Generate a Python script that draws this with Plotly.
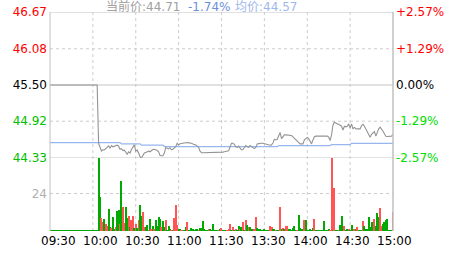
import plotly.graph_objects as go

# ---------------- data ----------------
time_labels = ["09:30", "10:00", "10:30", "11:00", "11:30", "13:30", "14:00", "14:30", "15:00"]
prev_close = 45.50
price_ticks = [46.67, 46.08, 45.50, 44.92, 44.33]
price_tick_colors = ["#ff0000", "#ff0000", "#000000", "#00c000", "#00c000"]
pct_labels = ["+2.57%", "+1.29%", "0.00%", "-1.29%", "-2.57%"]
pct_colors = ["#ff0000", "#ff0000", "#000000", "#00dd00", "#00dd00"]
vol_tick = [24]

# minute-by-minute price (minute 0 = 09:30 ... 240 = 15:00)
price_early = [45.50] * 34
price_mid = [
    44.566, 44.485, 44.442, 44.46, 44.458, 44.48, 44.50, 44.523, 44.485, 44.53,
    44.51, 44.52, 44.53, 44.535, 44.52, 44.47, 44.48, 44.45, 44.455, 44.41,
    44.39, 44.43, 44.41, 44.465, 44.51, 44.54, 44.44, 44.46, 44.41, 44.35,
    44.33, 44.38, 44.41, 44.42, 44.43, 44.44, 44.43, 44.455, 44.465, 44.47,
    44.465, 44.45, 44.43, 44.37, 44.365, 44.365, 44.41, 44.50, 44.485, 44.475,
    44.495, 44.46, 44.47, 44.485, 44.51, 44.566, 44.54, 44.56, 44.566, 44.566,
    44.572, 44.575, 44.577, 44.577, 44.57, 44.566, 44.555, 44.55, 44.54, 44.52,
    44.50, 44.44, 44.415, 44.415, 44.415, 44.415, 44.415, 44.415, 44.415, 44.415,
    44.418, 44.418, 44.418, 44.42, 44.42, 44.42, 44.425, 44.425, 44.43, 44.432,
    44.44, 44.445, 44.51, 44.566, 44.566, 44.55, 44.51, 44.50, 44.52, 44.485,
    44.46, 44.465,
]
price_late = [
    44.50, 44.53, 44.51, 44.50, 44.53, 44.51, 44.49, 44.48, 44.50, 44.556,
    44.56, 44.567, 44.567, 44.567, 44.56, 44.55, 44.54, 44.53, 44.535, 44.54,
    44.57, 44.63, 44.62, 44.63, 44.69, 44.74, 44.64, 44.665, 44.70, 44.70,
    44.70, 44.70, 44.695, 44.69, 44.67, 44.645, 44.62, 44.60, 44.583, 44.556,
    44.556, 44.556, 44.62, 44.64, 44.66, 44.64, 44.583, 44.556, 44.62, 44.67,
    44.68, 44.68, 44.68, 44.68, 44.68, 44.68, 44.68, 44.68, 44.68, 44.664,
    44.61, 44.70, 44.86, 44.905, 44.885, 44.877, 44.87, 44.86, 44.84, 44.78,
    44.84, 44.83, 44.84, 44.877, 44.81, 44.877, 44.80, 44.82, 44.80, 44.797,
    44.797, 44.797, 44.85, 44.87, 44.84, 44.80, 44.76, 44.70, 44.664, 44.71,
    44.74, 44.755, 44.68, 44.74, 44.797, 44.825, 44.80, 44.76, 44.72, 44.68,
    44.675, 44.675, 44.675, 44.68, 44.71,
]
avg_price = ([44.578] * 50 + [44.556] * 14 + [44.535] * 16 + [44.514] * 80
             + [44.53] * 37 + [44.546] * 14 + [44.565] * 30)

vol_early = [0.6] * 34
vol_mid = [
    48.5, 21.9, 8.4, 5.5, 7.6, 4.5, 3.2, 14.3, 2.8, 2.0,
    9.1, 1.5, 2.3, 12.9, 13.6, 4.5, 32.0, 15.6, 5.0, 15.6,
    8.4, 9.3, 2.4, 7.0, 9.3, 2.0, 4.5, 2.0, 6.8, 16.9,
    9.8, 12.4, 2.8, 2.4, 4.0, 0.6, 7.6, 1.0, 3.2, 1.0,
    6.8, 3.2, 8.9, 7.6, 2.4, 6.5, 2.8, 6.8, 0.6, 3.2,
    1.5, 0.6, 0.6, 8.4, 16.9, 3.7, 1.0, 1.5, 0.6, 0.6,
    0.6, 2.8, 5.5, 0.6, 0.6, 1.7, 1.0, 0.6, 1.0, 1.5,
    0.6, 2.0, 2.0, 6.5, 1.5, 0.6, 0.6, 1.5, 1.0, 0.6,
    4.5, 0.6, 0.6, 0.6, 0.6, 1.0, 2.0, 0.6, 0.6, 0.6,
    0.6, 1.5, 4.5, 0.6, 2.8, 0.6, 1.5, 0.6, 3.2, 1.5,
    2.8, 5.5,
]
vol_late = [
    0.6, 6.8, 3.7, 2.8, 2.4, 1.0, 1.5, 1.5, 9.1, 1.7,
    1.5, 1.0, 0.6, 0.6, 1.0, 0.6, 0.6, 0.6, 3.2, 2.4,
    1.5, 1.5, 0.6, 0.6, 0.6, 15.6, 1.0, 2.0, 1.0, 3.2,
    3.2, 1.5, 1.0, 0.6, 1.7, 3.2, 0.6, 0.6, 10.2, 2.0,
    1.5, 0.6, 6.8, 6.8, 0.6, 0.6, 1.0, 0.6, 2.0, 7.6,
    0.6, 0.6, 0.6, 0.6, 0.6, 0.6, 6.1, 0.6, 0.6, 1.5,
    0.6, 46.4, 0.6, 27.8, 0.6, 0.6, 0.6, 4.0, 9.5, 1.0,
    3.2, 0.6, 1.5, 1.0, 0.6, 4.0, 1.0, 1.5, 1.5, 2.8,
    0.6, 0.6, 0.6, 6.1, 3.2, 1.0, 1.5, 8.9, 2.4, 5.5,
    3.7, 7.6, 3.2, 11.8, 9.1, 14.8, 3.2, 4.3, 5.5, 7.2,
    7.6, 0.6, 0.6, 0.6, 12.4,
]
dir_early = "g" * 34
dir_mid = ("ggrrgrrggr" "ggrggrgrrg" "grgrrgrgrg" "grrggrgrgr" "ggggrggrgg"
           "grgrrrggrr" "ggrggggggg" "rggggggrgg" "ggggrgrggg" "rrrgrgrggr" "gr")
dir_late = ("grgrgggrrg" "ggggggggrr" "ggrggrgrgr" "rggggggrgg" "ggrggggggr"
            "gggggggggg" "rrgrggrggg" "rggrgggrgr" "gggrgggggg" "grgggrrggg"
            "ggggr")

price = price_early + price_mid + price_late
volume = vol_early + vol_mid + vol_late
direction = dir_early + dir_mid + dir_late
minutes = list(range(len(price)))

# ---------------- figure ----------------
UP, DOWN = "#ff5555", "#00aa00"
bar_colors = [UP if d == "r" else DOWN for d in direction]

fig = go.Figure()
fig.add_trace(go.Scatter(x=minutes, y=avg_price, mode="lines",
                         line=dict(color="#96b6f0", width=1.2), yaxis="y", hoverinfo="skip"))
fig.add_trace(go.Scatter(x=minutes, y=price, mode="lines",
                         line=dict(color="#949494", width=1.1), yaxis="y", hoverinfo="skip"))
fig.add_trace(go.Bar(x=minutes, y=volume, marker=dict(color=bar_colors, line=dict(width=0)),
                     width=0.72, yaxis="y2", xaxis="x"))

FONT = "DejaVu Sans, Noto Sans CJK SC, sans-serif"
GRID = "#cccccc"

shapes = []
for m in range(30, 240, 30):
    shapes.append(dict(type="line", xref="x", yref="paper", x0=m, x1=m, y0=0, y1=1,
                       line=dict(color=GRID, width=1, dash="3px,3px"), layer="below"))
for v in price_ticks:
    solid = v in (price_ticks[0], price_ticks[2], price_ticks[4])
    shapes.append(dict(type="line", xref="paper", yref="y", x0=0, x1=1, y0=v, y1=v,
                       line=dict(color="#c4c4c4" if solid else GRID, width=1,
                                 dash="solid" if solid else "3px,3px"), layer="below"))
for v in vol_tick:
    shapes.append(dict(type="line", xref="paper", yref="y2", x0=0, x1=1, y0=v, y1=v,
                       line=dict(color=GRID, width=1, dash="3px,3px"), layer="below"))
shapes.append(dict(type="line", xref="paper", yref="paper", x0=0, x1=0, y0=0, y1=1,
                   line=dict(color="#c0c0c0", width=1)))
shapes.append(dict(type="line", xref="paper", yref="paper", x0=1, x1=1, y0=0, y1=1,
                   line=dict(color="#c0c0c0", width=1.5)))

W = 343.0
annotations = []
for lab, col, v in zip(pct_labels, pct_colors, price_ticks):
    annotations.append(dict(xref="paper", yref="y", x=1, y=v, text=lab, showarrow=False,
                            xanchor="left", yanchor="middle", xshift=1,
                            font=dict(family=FONT, size=12, color=col)))
label_start_px, label_step_px = 8.0, 42.06
for i, lab in enumerate(time_labels):
    annotations.append(dict(xref="paper", yref="paper", x=(label_start_px + label_step_px * i) / W, y=0,
                            text=lab, showarrow=False, xanchor="center", yanchor="top",
                            yshift=-1, font=dict(family=FONT, size=12, color="#000000")))
header = [("当前价:44.71", "#a0a0a0", 105), ("-1.74%", "#6b8fdc", 187), ("均价:44.57", "#9db7ee", 234)]
for txt, col, px in header:
    annotations.append(dict(xref="paper", yref="paper", x=(px - 50) / W, y=1, text=txt,
                            showarrow=False, xanchor="left", yanchor="bottom", yshift=-4,
                            xshift=-1, font=dict(family=FONT, size=12, color=col)))

fig.update_layout(
    width=463, height=255,
    margin=dict(l=50, r=70, t=12, b=24, autoexpand=False),
    paper_bgcolor="white", plot_bgcolor="white",
    showlegend=False, bargap=0,
    shapes=shapes, annotations=annotations,
    xaxis=dict(range=[0, 240], showgrid=False, zeroline=False, showticklabels=False,
               showline=False, ticks="", anchor="y2", fixedrange=True, automargin=False),
    yaxis=dict(domain=[0.3333, 1], range=[price_ticks[-1], price_ticks[0]],
               tickvals=price_ticks,
               ticktext=[f'<span style="color:{c}">{v:.2f}</span>' for v, c in zip(price_ticks, price_tick_colors)],
               showgrid=False, zeroline=False, showline=False, ticks="",
               ticklabelstandoff=2, automargin=False,
               tickfont=dict(family=FONT, size=12), anchor="x"),
    yaxis2=dict(domain=[0, 0.3333], range=[0, 46.7], tickvals=vol_tick,
                ticktext=[str(v) for v in vol_tick], showgrid=False, zeroline=False,
                showline=False, ticks="", ticklabelstandoff=2, automargin=False,
                tickfont=dict(family=FONT, size=12, color="#b0b0b0"), anchor="x"),
)

fig.write_html("out.html")
